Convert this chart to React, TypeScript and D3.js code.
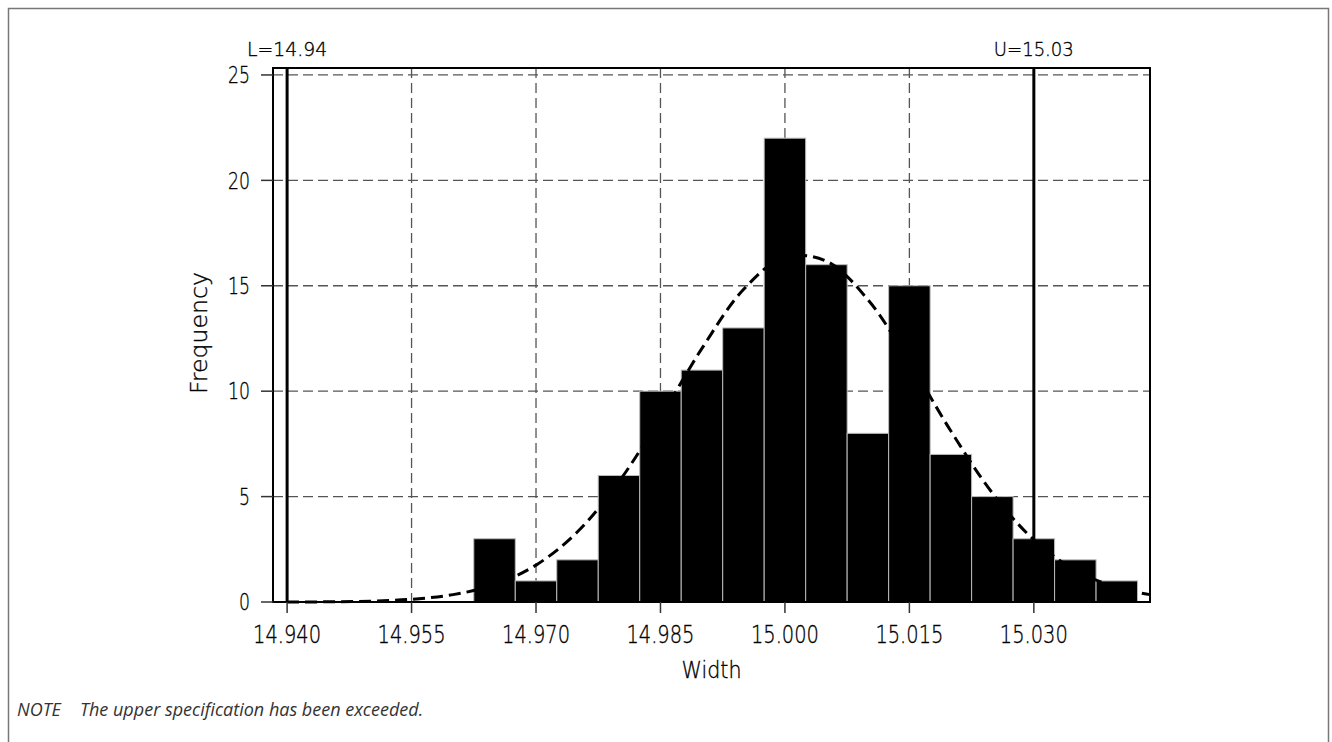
import React from "react";
import * as d3 from "d3";

// histogram bins (lower edge) and counts
const binStarts = [
  14.9625, 14.9675, 14.9725, 14.9775, 14.9825, 14.9875, 14.9925, 14.9975,
  15.0025, 15.0075, 15.0125, 15.0175, 15.0225, 15.0275, 15.0325, 15.0375,
];
const counts = [3, 1, 2, 6, 10, 11, 13, 22, 16, 8, 15, 7, 5, 3, 2, 1];
const binWidth = 0.005;

// fitted curve
const curveX = [
  14.94, 14.945, 14.95, 14.955, 14.96, 14.965, 14.97, 14.975, 14.98, 14.985,
  14.99, 14.995, 15.0, 15.005, 15.01, 15.015, 15.02, 15.025, 15.03, 15.035,
  15.04, 15.044,
];
const curveY = [
  0.0, 0.01, 0.04, 0.13, 0.35, 0.82, 1.75, 3.33, 5.71, 8.76, 12.03, 14.82,
  16.36, 16.17, 14.34, 11.39, 8.11, 5.17, 2.95, 1.51, 0.69, 0.35,
];

const xTicks = [14.94, 14.955, 14.97, 14.985, 15.0, 15.015, 15.03];
const yTicks = [0, 5, 10, 15, 20, 25];
const lowerSpec = 14.94;
const upperSpec = 15.03;

const W = 1332;
const H = 742;
const left = 273;
const right = 1150;
const top = 68;
const bottom = 602;

// narrow, technical-looking lettering: DejaVu squeezed with textLength
const font = "'DejaVu Sans', sans-serif";
const ink = { fill: "#000", stroke: "#000", strokeWidth: 0.35, fontWeight: 300 };

export default function App() {
  const x = d3.scaleLinear().domain([14.9383, 15.044]).range([left, right]);
  const y = d3.scaleLinear().domain([0, 25.33]).range([bottom, top]);

  const pts = curveX.map((v, i) => [v, curveY[i]] as [number, number]);
  const line = d3
    .line<[number, number]>()
    .x((d) => x(d[0]))
    .y((d) => y(d[1]))
    .curve(d3.curveCatmullRom);

  return (
    <div style={{ position: "absolute", left: 0, top: 0 }}>
      <svg width={W} height={H} style={{ display: "block", background: "#fff" }}>
        {/* outer box */}
        <rect x={8.5} y={8.5} width={1320} height={780} fill="none" stroke="#777" strokeWidth={1.5} />

        {/* grid */}
        <g stroke="#555" strokeWidth={1.3} strokeDasharray="10 5">
          {yTicks.slice(1).map((t) => (
            <line key={"gy" + t} x1={left} x2={right} y1={y(t)} y2={y(t)} />
          ))}
          {xTicks.slice(1).map((t) => (
            <line key={"gx" + t} x1={x(t)} x2={x(t)} y1={top} y2={bottom} />
          ))}
        </g>

        {/* bars */}
        <g fill="#000" stroke="#bbb" strokeWidth={1}>
          {binStarts.map((b, i) => (
            <rect
              key={b}
              x={x(b)}
              y={y(counts[i])}
              width={x(b + binWidth) - x(b)}
              height={y(0) - y(counts[i])}
            />
          ))}
        </g>

        {/* normal curve */}
        <path d={line(pts) || ""} fill="none" stroke="#000" strokeWidth={3} strokeDasharray="12 6" />

        {/* spec limits */}
        <line x1={x(lowerSpec)} x2={x(lowerSpec)} y1={top} y2={bottom} stroke="#000" strokeWidth={3} />
        <line x1={x(upperSpec)} x2={x(upperSpec)} y1={top} y2={bottom} stroke="#000" strokeWidth={3} />

        {/* frame */}
        <rect x={left} y={top} width={right - left} height={bottom - top} fill="none" stroke="#000" strokeWidth={2} />

        {/* y axis */}
        <g fontFamily={font} fontSize={23}>
          {yTicks.map((t) => (
            <g key={"yt" + t}>
              <line x1={261} x2={left} y1={y(t)} y2={y(t)} stroke="#333" strokeWidth={1.5} />
              <text
                x={250}
                y={y(t)}
                dy="0.36em"
                textAnchor="end"
                textLength={String(t).length * 11}
                lengthAdjust="spacingAndGlyphs"
                {...ink}
              >
                {t}
              </text>
            </g>
          ))}
        </g>

        {/* x axis */}
        <g fontFamily={font} fontSize={24}>
          {xTicks.map((t) => (
            <g key={"xt" + t}>
              <line x1={x(t)} x2={x(t)} y1={bottom} y2={613} stroke="#333" strokeWidth={1.5} />
              <text
                x={x(t)}
                y={643}
                textAnchor="middle"
                textLength={68}
                lengthAdjust="spacingAndGlyphs"
                {...ink}
              >
                {d3.format(".3f")(t)}
              </text>
            </g>
          ))}
        </g>

        <text
          x={(left + right) / 2}
          y={678}
          textAnchor="middle"
          fontFamily={font}
          fontSize={23}
          textLength={60}
          lengthAdjust="spacingAndGlyphs"
          {...ink}
        >
          Width
        </text>
        <text
          transform={`translate(207,333) rotate(-90)`}
          textAnchor="middle"
          fontFamily={font}
          fontSize={23}
          textLength={122}
          lengthAdjust="spacingAndGlyphs"
          {...ink}
        >
          Frequency
        </text>

        {/* spec labels */}
        <g fontFamily={font} fontSize={19} textAnchor="middle">
          <text x={x(lowerSpec)} y={56} textLength={80} lengthAdjust="spacingAndGlyphs" {...ink}>
            L=14.94
          </text>
          <text x={x(upperSpec)} y={56} textLength={80} lengthAdjust="spacingAndGlyphs" {...ink}>
            U=15.03
          </text>
        </g>

        {/* note */}
        <g fontFamily="'Open Sans', 'Noto Sans', sans-serif" fontStyle="italic" fontSize={18} fill="#333">
          <text x={17} y={716}>NOTE</text>
          <text x={80} y={716}>The upper specification has been exceeded.</text>
        </g>
      </svg>
    </div>
  );
}
